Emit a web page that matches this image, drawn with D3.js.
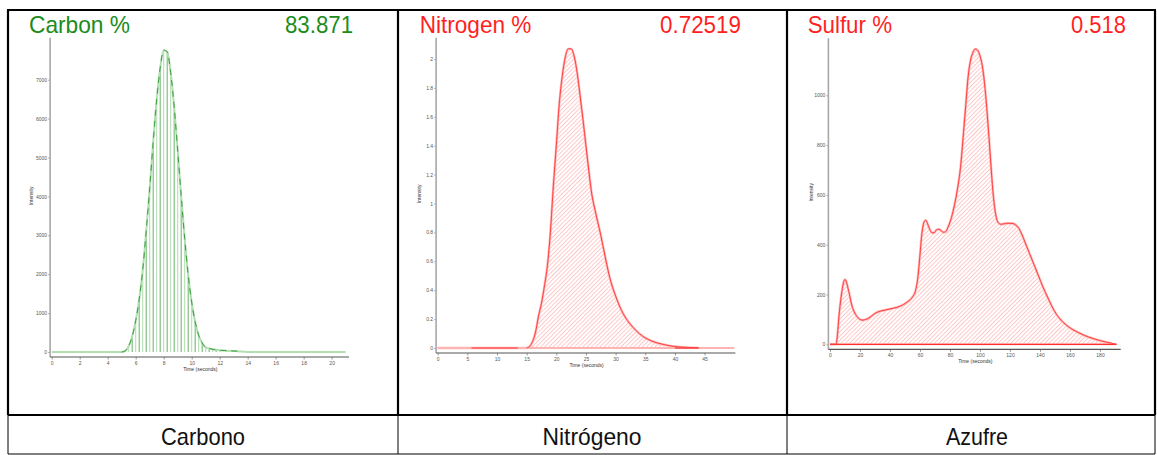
<!DOCTYPE html>
<html>
<head>
<meta charset="utf-8">
<script src="https://cdn.jsdelivr.net/npm/d3@7"></script>
<style>
  body { margin: 0; background: #fff; }
  svg { display: block; }
  text { font-family: "Liberation Sans", Arial, sans-serif; }
</style>
</head>
<body>
<svg id="chart" width="1157" height="455"></svg>
<script>
// ---- Data ----
const panelLabels = ["Carbono", "Nitrógeno", "Azufre"];
const elementNames = ["Carbon %", "Nitrogen %", "Sulfur %"];
const elementResults = ["83.871", "0.72519", "0.518"];

// Carbon detector trace (time in seconds, intensity)
const carbonTime = [0, 2, 4, 5, 5.25, 5.5, 5.75, 6, 6.25, 6.5, 6.75, 7, 7.25, 7.5, 7.75, 8, 8.25, 8.5, 8.75, 9, 9.25, 9.5, 9.75, 10, 10.25, 10.5, 10.75, 11, 11.25, 11.5, 11.75, 12, 12.5, 13, 13.3, 14, 16, 18, 20, 21];
const carbonIntensity = [0, 0, 0, 0, 30, 150, 400, 800, 1350, 2100, 3100, 4200, 5400, 6480, 7300, 7760, 7720, 7180, 6300, 5190, 4020, 2920, 1990, 1280, 770, 430, 230, 120, 90, 70, 55, 45, 35, 25, 20, 0, 0, 0, 0, 0];

// Nitrogen detector trace
const nitrogenTime = [0, 5, 10, 15, 15.5, 16, 16.5, 17, 17.5, 18, 18.5, 19, 19.5, 20, 20.5, 21, 21.5, 22, 22.5, 23, 23.5, 24, 24.5, 25, 25.5, 26, 26.5, 27, 27.5, 28, 28.5, 29, 30, 31, 32, 33, 34, 35, 36, 38, 40, 42, 44, 47, 50];
const nitrogenIntensity = [0, 0, 0, 0, 0.01, 0.045, 0.11, 0.22, 0.31, 0.43, 0.57, 0.8, 1.12, 1.4, 1.69, 1.88, 2.01, 2.07, 2.07, 2.02, 1.91, 1.75, 1.58, 1.4, 1.22, 1.06, 0.96, 0.87, 0.78, 0.68, 0.58, 0.49, 0.36, 0.26, 0.19, 0.14, 0.1, 0.07, 0.05, 0.025, 0.01, 0.004, 0.001, 0, 0];

// Sulfur detector trace
const sulfurTime = [0, 2, 4, 5, 6, 7, 8, 9, 10, 11, 12, 13, 14, 16, 18, 20, 22, 24, 26, 28, 30, 32, 34, 37, 40, 43, 46, 49, 52, 55, 57, 58.5, 60, 61, 62, 63, 64, 65, 66.5, 68, 69.5, 71, 72.5, 74, 75.5, 77, 79, 81, 83, 85, 87, 89, 90.5, 92, 93.5, 95, 97, 98.5, 100, 101.5, 103, 104.5, 106, 107.5, 109, 110.5, 112, 114, 116, 118, 120, 122, 124, 126, 128, 130, 133, 136, 139, 142, 145, 148, 151, 154, 157, 160, 164, 168, 172, 176, 180, 184, 188, 191];
const sulfurIntensity = [0, 0, 0, 40, 115, 170, 215, 248, 260, 250, 225, 200, 170, 132, 112, 100, 97, 100, 106, 115, 124, 130, 134, 138, 142, 146, 151, 160, 172, 190, 215, 265, 360, 430, 475, 495, 498, 485, 462, 448, 448, 460, 462, 457, 450, 452, 475, 510, 560, 625, 710, 850, 960, 1070, 1135, 1168, 1186, 1180, 1158, 1120, 1050, 950, 830, 700, 590, 520, 490, 482, 484, 486, 486, 485, 478, 465, 440, 410, 365, 320, 275, 230, 190, 152, 120, 97, 80, 66, 52, 40, 30, 22, 15, 9, 4, 0];

// Tick values
const carbonXTicks = [0, 2, 4, 6, 8, 10, 12, 14, 16, 18, 20];
const carbonYTicks = [0, 1000, 2000, 3000, 4000, 5000, 6000, 7000];
const nitrogenXTicks = [0, 5, 10, 15, 20, 25, 30, 35, 40, 45];
const nitrogenYTicks = [0, 0.2, 0.4, 0.6, 0.8, 1, 1.2, 1.4, 1.6, 1.8, 2];
const sulfurXTicks = [0, 20, 40, 60, 80, 100, 120, 140, 160, 180];
const sulfurYTicks = [0, 200, 400, 600, 800, 1000];

// ---- Layout ----
const svg = d3.select("#chart");
const GREEN = "#1b8c1b", RED = "#ff1f1f";

const panels = [
  { time: carbonTime, val: carbonIntensity, xTicks: carbonXTicks, yTicks: carbonYTicks,
    xDomain: [0, 21.24], xRange: [51.7, 349], yDomain: [0, 8080], yRange: [352, 37.7],
    titleColor: GREEN, style: "stems", tx: 29, vx: 353, titleW: 101, valW: 68, yLabelX: 31.7 },
  { time: nitrogenTime, val: nitrogenIntensity, xTicks: nitrogenXTicks, yTicks: nitrogenYTicks,
    xDomain: [0, 50.2], xRange: [437.7, 735.4], yDomain: [0, 2.147], yRange: [348, 37.7],
    titleColor: RED, style: "hatch", tx: 419.7, vx: 741, titleW: 111.7, valW: 81, yLabelX: 419.7,
    darkBase: [[5.7, 13.5], [40, 44]], traceSpan: [15, 44] },
  { time: sulfurTime, val: sulfurIntensity, xTicks: sulfurXTicks, yTicks: sulfurYTicks,
    xDomain: [0, 193.8], xRange: [830, 1120.7], yDomain: [0, 1229], yRange: [344.3, 38.3],
    titleColor: RED, style: "hatch", tx: 807.7, vx: 1126, titleW: 84.3, valW: 55, yLabelX: 811,
    darkBase: [[0, 191]], traceSpan: [0, 191] }
];

// Hatch pattern for filled peaks
const defs = svg.append("defs");
const pat = defs.append("pattern")
  .attr("id", "hatchRed")
  .attr("patternUnits", "userSpaceOnUse")
  .attr("width", 3).attr("height", 3)
  .attr("patternTransform", "rotate(45)");
pat.append("rect").attr("width", 3).attr("height", 3).attr("fill", "#fff");
pat.append("line").attr("x1", 0).attr("y1", 0).attr("x2", 0).attr("y2", 3)
  .attr("stroke", "#ff9c9c").attr("stroke-width", 1.1);

panels.forEach((p, i) => {
  const g = svg.append("g");
  const x = d3.scaleLinear().domain(p.xDomain).range(p.xRange);
  const y = d3.scaleLinear().domain(p.yDomain).range(p.yRange);
  const pts = p.time.map((t, k) => ({ t, v: p.val[k] }));
  const axisX = x(0) - 1.6;
  const axisY = y(0) + 5;

  // Peak
  const line = d3.line().x(d => x(d.t)).y(d => y(d.v)).curve(d3.curveMonotoneX);
  if (p.style === "stems") {
    const stems = pts.filter(d => d.v >= 30);
    g.selectAll("line.stem").data(stems).join("line")
      .attr("class", "stem")
      .attr("x1", d => x(d.t)).attr("x2", d => x(d.t))
      .attr("y1", y(0)).attr("y2", d => y(d.v))
      .attr("stroke", (d, k) => k % 2 ? "#b5dfb5" : "#3f9f3f")
      .attr("stroke-width", (d, k) => k % 2 ? 1.1 : 0.8);
    g.append("path").datum(pts).attr("d", line)
      .attr("fill", "none").attr("stroke", "#b2deb2").attr("stroke-width", 2);
    g.append("path").datum(pts.filter(d => d.t >= 5 && d.t <= 13.3)).attr("d", line)
      .attr("fill", "none").attr("stroke", "#2a962f").attr("stroke-width", 0.9)
      .attr("stroke-dasharray", "6,5");
  } else {
    const area = d3.area().x(d => x(d.t)).y0(y(0)).y1(d => y(d.v)).curve(d3.curveMonotoneX);
    g.append("path").datum(pts).attr("d", area).attr("fill", "url(#hatchRed)");
    // pale zero line along the whole trace
    g.append("line").attr("x1", x(p.time[0])).attr("x2", x(p.time[p.time.length - 1]))
      .attr("y1", y(0)).attr("y2", y(0))
      .attr("stroke", "#ffb4b4").attr("stroke-width", 1.8);
    g.append("path").datum(pts.filter(d => d.v > 0 || d.t <= 15)).attr("d", line)
      .attr("fill", "none").attr("stroke", "#ffb4b4").attr("stroke-width", 2.4);
    // darker baseline stretches
    g.selectAll("line.base").data(p.darkBase).join("line")
      .attr("class", "base")
      .attr("x1", d => x(d[0])).attr("x2", d => x(d[1]))
      .attr("y1", y(0)).attr("y2", y(0))
      .attr("stroke", "#ff3030").attr("stroke-width", 1.2);
    g.append("path").datum(pts.filter(d => d.t >= p.traceSpan[0] && d.t <= p.traceSpan[1])).attr("d", line)
      .attr("fill", "none").attr("stroke", "#ff4040").attr("stroke-width", 1);
  }

  // Y axis
  const ya = d3.axisLeft(y).tickValues(p.yTicks).tickSize(2).tickPadding(1).tickSizeOuter(0)
    .tickFormat(d3.format("~g"));
  const yg = g.append("g").attr("transform", `translate(${axisX},0)`).call(ya);
  yg.select(".domain").remove();
  yg.selectAll("line").attr("stroke", "#777").attr("stroke-width", 0.6);
  yg.selectAll("text").attr("font-size", 5).attr("fill", "#555");
  g.append("line").attr("x1", axisX).attr("x2", axisX)
    .attr("y1", p.yRange[1]).attr("y2", axisY)
    .attr("stroke", "#a8a8a8").attr("stroke-width", 1.6);

  // X axis
  const xa = d3.axisBottom(x).tickValues(p.xTicks).tickSize(2.5).tickPadding(2).tickSizeOuter(0);
  const xg = g.append("g").attr("transform", `translate(0,${axisY})`).call(xa);
  xg.select(".domain").remove();
  xg.selectAll("line").attr("stroke", "#555").attr("stroke-width", 0.6);
  xg.selectAll("text").attr("font-size", 5).attr("fill", "#555");
  g.append("line").attr("x1", axisX).attr("x2", p.xRange[1])
    .attr("y1", axisY).attr("y2", axisY)
    .attr("stroke", "#555").attr("stroke-width", 1.2);

  // Axis titles
  g.append("text").attr("x", (p.xRange[0] + p.xRange[1]) / 2).attr("y", axisY + 14)
    .attr("text-anchor", "middle").attr("font-size", 5).attr("fill", "#333")
    .text("Time (seconds)");
  const ymid = (p.yRange[0] + p.yRange[1]) / 2 + 1;
  g.append("text").attr("transform", `translate(${p.yLabelX + 1.5},${ymid}) rotate(-90)`)
    .attr("text-anchor", "middle").attr("font-size", 5).attr("fill", "#333")
    .text("Intensity");

  // Header: element and result
  g.append("text").attr("x", p.tx).attr("y", 32.5).attr("font-size", 24)
    .attr("fill", p.titleColor).attr("textLength", p.titleW).attr("lengthAdjust", "spacingAndGlyphs")
    .text(elementNames[i]);
  g.append("text").attr("x", p.vx - p.valW).attr("y", 32.5).attr("font-size", 24)
    .attr("fill", p.titleColor).attr("textLength", p.valW).attr("lengthAdjust", "spacingAndGlyphs")
    .text(elementResults[i]);
});

// ---- Table frame ----
const colX = [8, 398, 787, 1155];
const rowY = [10, 415, 454];
const frame = svg.append("g").attr("stroke", "#000").attr("fill", "none");
frame.append("line").attr("x1", colX[0] - 1).attr("x2", colX[3] + 1).attr("y1", rowY[0]).attr("y2", rowY[0]).attr("stroke-width", 2.2);
frame.append("line").attr("x1", colX[0]).attr("x2", colX[3]).attr("y1", rowY[1]).attr("y2", rowY[1]).attr("stroke-width", 1.8);
frame.append("line").attr("x1", colX[0]).attr("x2", colX[3]).attr("y1", rowY[2]).attr("y2", rowY[2]).attr("stroke-width", 1);
colX.forEach((cx, k) => {
  frame.append("line").attr("x1", cx).attr("x2", cx).attr("y1", rowY[0]).attr("y2", rowY[1]).attr("stroke-width", 2.2);
  frame.append("line").attr("x1", cx).attr("x2", cx).attr("y1", rowY[1]).attr("y2", rowY[2]).attr("stroke-width", 1);
});

// Bottom row labels
const labelCx = [203, 592, 977];
const labelW = [84, 99, 62];
svg.selectAll("text.cell").data(panelLabels).join("text")
  .attr("class", "cell")
  .attr("x", (d, k) => labelCx[k] - labelW[k] / 2)
  .attr("y", 444.5)
  .attr("font-size", 24).attr("fill", "#111")
  .attr("textLength", (d, k) => labelW[k]).attr("lengthAdjust", "spacingAndGlyphs")
  .text(d => d);
</script>
</body>
</html>
